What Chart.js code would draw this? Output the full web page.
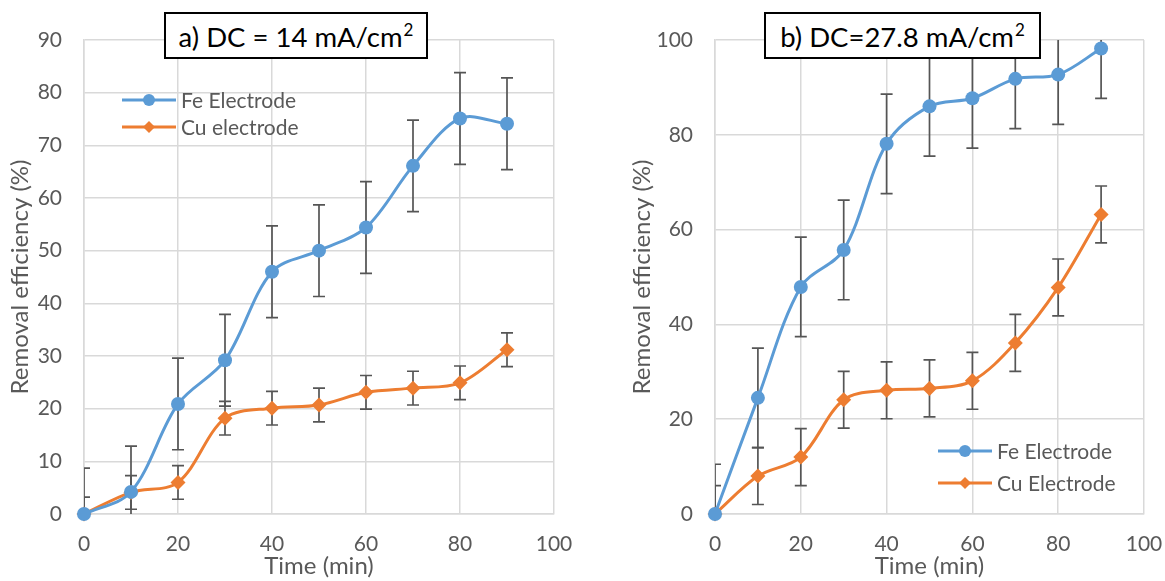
<!DOCTYPE html>
<html>
<head>
<meta charset="utf-8">
<title>Removal efficiency vs time</title>
<script src="https://cdn.jsdelivr.net/npm/chart.js@4.4.1/dist/chart.umd.min.js"></script>
<style>
  html, body { margin: 0; padding: 0; background: #fff; }
  body { width: 1165px; height: 581px; position: relative; overflow: hidden; font-family: Lato, "Open Sans", sans-serif; }
  canvas { position: absolute; top: 0; }
  #chartA { left: 0; }
  #chartB { left: 582px; }
  .tag {
    position: absolute; box-sizing: border-box; top: 12px; height: 47px;
    border: 2px solid #000; background: #fff; color: #000;
    font-size: 27.5px; line-height: 40px; padding-top: 3px; text-align: center; white-space: nowrap;
  }
  .tag sup { font-size: 17px; vertical-align: top; position: relative; top: -7px; margin-left: 1px; }
  #tagA { left: 164px; width: 264px; }
  #tagB { left: 764px; width: 277px; }
</style>
</head>
<body>
<canvas id="chartA" width="582" height="581"></canvas>
<canvas id="chartB" width="583" height="581"></canvas>
<div class="tag" id="tagA">a) DC = 14 mA/cm<sup>2</sup></div>
<div class="tag" id="tagB">b) DC=27.8 mA/cm<sup>2</sup></div>

<script>
// Sampling times (min)
const timeMin = [0, 10, 20, 30, 40, 50, 60, 70, 80, 90];

// Panel a: DC = 14 mA/cm2
const feA    = [0, 4.2, 20.9, 29.2, 46.0, 50.0, 54.4, 66.1, 75.1, 74.1];
const feErrA = [8.7, 8.7, 8.7, 8.7, 8.7, 8.7, 8.7, 8.7, 8.7, 8.7];
const cuA    = [0, 4.1, 6.0, 18.2, 20.1, 20.7, 23.1, 23.9, 24.9, 31.2];
const cuErrA = [3.2, 3.2, 3.2, 3.2, 3.2, 3.2, 3.2, 3.2, 3.2, 3.2];

// Panel b: DC = 27.8 mA/cm2
const feB    = [0, 24.5, 47.9, 55.7, 78.1, 86.0, 87.7, 91.8, 92.7, 98.2];
const feErrB = [10.5, 10.5, 10.5, 10.5, 10.5, 10.5, 10.5, 10.5, 10.5, 10.5];
const cuB    = [0, 8.0, 12.0, 24.1, 26.1, 26.5, 28.1, 36.1, 47.8, 63.2];
const cuErrB = [6.0, 6.0, 6.0, 6.0, 6.0, 6.0, 6.0, 6.0, 6.0, 6.0];

// Axis ticks
const xTickStep = 20;
const yTickStepA = 10, yMaxA = 90;
const yTickStepB = 20, yMaxB = 100;

const FE_COLOR = '#5B9BD5';
const CU_COLOR = '#ED7D31';
const TEXT_COLOR = '#595959';
const GRID_COLOR = '#d9d9d9';
const FONT = 'Lato';

function pairs(xs, ys) { return xs.map((x, i) => ({ x: x, y: ys[i] })); }

// Vertical error bars with caps, drawn under the series
const errorBarPlugin = {
  id: 'errorBars',
  beforeDatasetsDraw(chart) {
    const { ctx, chartArea, scales } = chart;
    ctx.save();
    ctx.beginPath();
    ctx.rect(chartArea.left, chartArea.top, chartArea.right - chartArea.left, chartArea.bottom - chartArea.top);
    ctx.clip();
    ctx.strokeStyle = '#555555';
    ctx.lineWidth = 1.7;
    const cap = 6;
    chart.data.datasets.forEach(ds => {
      if (!ds.errors) return;
      ds.data.forEach((p, i) => {
        const e = ds.errors[i];
        const x = scales.x.getPixelForValue(p.x);
        const yTop = scales.y.getPixelForValue(p.y + e);
        const yBot = scales.y.getPixelForValue(p.y - e);
        ctx.beginPath();
        ctx.moveTo(x, yTop); ctx.lineTo(x, yBot);
        ctx.moveTo(x - cap, yTop); ctx.lineTo(x + cap, yTop);
        ctx.moveTo(x - cap, yBot); ctx.lineTo(x + cap, yBot);
        ctx.stroke();
      });
    });
    ctx.restore();
  }
};

// Legend placed inside the plot area
const insideLegendPlugin = {
  id: 'insideLegend',
  afterDraw(chart, args, opts) {
    const { ctx } = chart;
    ctx.save();
    ctx.font = opts.fontSize + 'px ' + FONT;
    ctx.textBaseline = 'middle';
    chart.data.datasets.forEach((ds, i) => {
      const y = opts.y + i * opts.rowGap;
      const x0 = opts.x, x1 = opts.x + opts.lineLength, cx = (x0 + x1) / 2;
      ctx.strokeStyle = ds.borderColor;
      ctx.lineWidth = 3;
      ctx.beginPath(); ctx.moveTo(x0, y); ctx.lineTo(x1, y); ctx.stroke();
      ctx.fillStyle = ds.backgroundColor;
      ctx.beginPath();
      const r = opts.markerRadius;
      if (ds.pointStyle === 'rectRot') {
        ctx.moveTo(cx - r, y); ctx.lineTo(cx, y - r); ctx.lineTo(cx + r, y); ctx.lineTo(cx, y + r); ctx.closePath();
      } else {
        ctx.arc(cx, y, r, 0, Math.PI * 2);
      }
      ctx.fill();
      ctx.fillStyle = TEXT_COLOR;
      ctx.fillText(ds.label, x1 + 5, y + 1);
    });
    ctx.restore();
  }
};

function buildChart(canvasId, cfg) {
  const tickFont = { family: FONT, size: 21 };
  const titleFont = { family: FONT, size: 24 };
  return new Chart(document.getElementById(canvasId), {
    type: 'line',
    data: {
      datasets: [
        {
          label: 'Fe Electrode',
          data: pairs(timeMin, cfg.fe), errors: cfg.feErr,
          borderColor: FE_COLOR, backgroundColor: FE_COLOR, borderWidth: 3,
          pointStyle: 'circle', pointRadius: 7, pointBorderWidth: 0,
          tension: 0.33, clip: false
        },
        {
          label: cfg.cuLabel,
          data: pairs(timeMin, cfg.cu), errors: cfg.cuErr,
          borderColor: CU_COLOR, backgroundColor: CU_COLOR, borderWidth: 3,
          pointStyle: 'rectRot', pointRadius: 7.5, pointBorderWidth: 0,
          tension: 0.33, clip: false
        }
      ]
    },
    options: {
      responsive: false,
      animation: false,
      events: [],
      layout: { padding: cfg.padding },
      plugins: {
        legend: { display: false },
        tooltip: { enabled: false },
        insideLegend: cfg.legend
      },
      scales: {
        x: {
          type: 'linear', min: 0, max: 100,
          ticks: { stepSize: xTickStep, color: TEXT_COLOR, font: tickFont, padding: 18 },
          grid: { color: GRID_COLOR, lineWidth: 1.5, drawTicks: false },
          border: { color: GRID_COLOR, width: 1.5 },
          title: { display: true, text: 'Time (min)', color: TEXT_COLOR, font: titleFont, padding: { top: 0, bottom: 0 } },
          afterFit(s) { s.height = 67; s.paddingLeft = 0; s.paddingRight = 0; }
        },
        y: {
          type: 'linear', min: 0, max: cfg.yMax,
          ticks: { stepSize: cfg.yStep, color: TEXT_COLOR, font: tickFont, padding: 22 },
          grid: { color: GRID_COLOR, lineWidth: 1.5, drawTicks: false },
          border: { color: GRID_COLOR, width: 1.5 },
          title: { display: true, text: 'Removal efficiency (%)', color: TEXT_COLOR, font: titleFont, padding: { top: 4, bottom: 4 } },
          afterFit(s) { s.width = cfg.yWidth; s.paddingTop = 0; s.paddingBottom = 0; }
        }
      }
    },
    plugins: [errorBarPlugin, insideLegendPlugin]
  });
}

function drawAll() {
  buildChart('chartA', {
    fe: feA, feErr: feErrA, cu: cuA, cuErr: cuErrA, cuLabel: 'Cu electrode',
    yMax: yMaxA, yStep: yTickStepA,
    padding: { left: 2, right: 28, top: 40, bottom: 0 }, yWidth: 82,
    legend: { x: 122, y: 100, rowGap: 27, lineLength: 54, markerRadius: 6, fontSize: 21 }
  });
  buildChart('chartB', {
    fe: feB, feErr: feErrB, cu: cuB, cuErr: cuErrB, cuLabel: 'Cu Electrode',
    yMax: yMaxB, yStep: yTickStepB,
    padding: { left: 42, right: 21, top: 40, bottom: 0 }, yWidth: 91,
    legend: { x: 356, y: 451, rowGap: 32, lineLength: 54, markerRadius: 6, fontSize: 21 }
  });
}

if (document.fonts && document.fonts.load) {
  Promise.all([document.fonts.load('21px Lato'), document.fonts.load('24px Lato'), document.fonts.load('27.5px Lato')]).then(drawAll, drawAll);
} else {
  drawAll();
}
</script>
</body>
</html>
